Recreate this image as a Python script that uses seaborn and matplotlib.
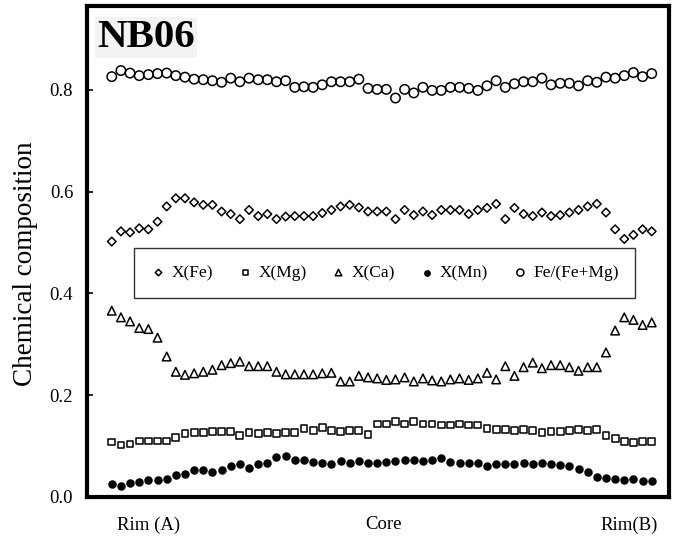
import matplotlib
matplotlib.use("Agg")
import matplotlib.pyplot as plt
import seaborn as sns
import numpy as np

# analysis points along the traverse, rim (A) -> core -> rim (B)
points = np.arange(60)

x_fe = [0.502, 0.522, 0.520, 0.528, 0.526, 0.541, 0.571, 0.587, 0.587, 0.579,
        0.574, 0.574, 0.561, 0.556, 0.546, 0.564, 0.552, 0.556, 0.546, 0.551,
        0.552, 0.552, 0.552, 0.558, 0.564, 0.571, 0.574, 0.569, 0.561,
        0.561, 0.561, 0.546, 0.564, 0.554, 0.561, 0.554, 0.564, 0.564, 0.564,
        0.556, 0.564, 0.568, 0.576, 0.546, 0.568, 0.556, 0.552, 0.559, 0.552,
        0.554, 0.559, 0.564, 0.571, 0.576, 0.559, 0.526, 0.507, 0.515, 0.526,
        0.522]

x_mg = [0.108, 0.102, 0.104, 0.110, 0.110, 0.110, 0.110, 0.117, 0.124, 0.126,
        0.126, 0.128, 0.128, 0.128, 0.120, 0.126, 0.125, 0.126, 0.125, 0.126,
        0.126, 0.134, 0.130, 0.136, 0.130, 0.128, 0.130, 0.130, 0.122,
        0.1435, 0.1435, 0.148, 0.1435, 0.148, 0.1435, 0.1435, 0.1415, 0.1415,
        0.1435, 0.1415, 0.1415, 0.135, 0.132, 0.133, 0.130, 0.132, 0.130,
        0.126, 0.128, 0.128, 0.130, 0.132, 0.130, 0.132, 0.120, 0.115, 0.109,
        0.107, 0.109, 0.109]

x_ca = [0.366, 0.353, 0.345, 0.332, 0.330, 0.313, 0.276, 0.246, 0.240, 0.243,
        0.246, 0.250, 0.259, 0.263, 0.266, 0.257, 0.257, 0.257, 0.246, 0.241,
        0.241, 0.241, 0.241, 0.243, 0.244, 0.227, 0.227, 0.238, 0.235,
        0.233, 0.230, 0.231, 0.235, 0.227, 0.233, 0.229, 0.227, 0.231, 0.233,
        0.230, 0.233, 0.244, 0.231, 0.257, 0.238, 0.255, 0.264, 0.253, 0.259,
        0.259, 0.255, 0.248, 0.255, 0.255, 0.284, 0.327, 0.353, 0.348, 0.338,
        0.343]

x_mn = [0.025, 0.022, 0.027, 0.030, 0.033, 0.033, 0.035, 0.043, 0.045, 0.052,
        0.052, 0.049, 0.053, 0.061, 0.065, 0.056, 0.065, 0.067, 0.078, 0.081,
        0.073, 0.073, 0.069, 0.067, 0.065, 0.071, 0.067, 0.071, 0.067,
        0.067, 0.069, 0.071, 0.073, 0.073, 0.071, 0.073, 0.076, 0.069, 0.067,
        0.067, 0.067, 0.060, 0.065, 0.065, 0.065, 0.067, 0.065, 0.067, 0.065,
        0.062, 0.060, 0.054, 0.049, 0.040, 0.037, 0.036, 0.033, 0.036, 0.031,
        0.031]

fe_ratio = [0.826, 0.838, 0.833, 0.828, 0.830, 0.832, 0.833, 0.828, 0.825, 0.821,
            0.820, 0.818, 0.815, 0.823, 0.816, 0.823, 0.820, 0.820, 0.816, 0.818,
            0.805, 0.806, 0.805, 0.810, 0.816, 0.816, 0.816, 0.821, 0.803,
            0.801, 0.801, 0.784, 0.801, 0.794, 0.805, 0.799, 0.799, 0.805, 0.805,
            0.803, 0.799, 0.808, 0.818, 0.805, 0.812, 0.816, 0.816, 0.823, 0.810,
            0.813, 0.813, 0.808, 0.818, 0.815, 0.825, 0.823, 0.828, 0.834, 0.826,
            0.832]

labels = ["X(Fe)", "X(Mg)", "X(Ca)", "X(Mn)", "Fe/(Fe+Mg)"]
tick_pos = [4.0, 29.7, 56.5]
tick_labels = ["Rim (A)", "Core", "Rim(B)"]

sns.set_theme(style="white")
plt.rcParams["font.family"] = ["Liberation Serif", "DejaVu Serif"]
plt.rcParams["text.color"] = "black"
plt.rcParams["axes.labelcolor"] = "black"
plt.rcParams["xtick.color"] = "black"
plt.rcParams["ytick.color"] = "black"

fig = plt.figure(figsize=(6.8, 5.39), dpi=100)
ax = fig.add_axes([0.128, 0.078, 0.856, 0.911])

series = [x_fe, x_mg, x_ca, x_mn, fe_ratio]
markers = ["D", "s", "^", "o", "o"]
sizes = [19, 24, 38, 25, 46]
fills = ["none", "none", "none", "black", "none"]

for vals, lab, mk, sz, fc in zip(series, labels, markers, sizes, fills):
    sns.scatterplot(
        x=points, y=vals, ax=ax,
        marker=mk, s=sz,
        color="black", facecolor=fc, edgecolor="black",
        linewidth=1.1, label=lab
    )

ax.set_xlim(-2.7, 60.9)
ax.set_ylim(0, 0.965)
ax.set_yticks([0.0, 0.2, 0.4, 0.6, 0.8])
ax.set_yticklabels(["0.0", "0.2", "0.4", "0.6", "0.8"])
ax.set_xticks(tick_pos)
ax.set_xticklabels(tick_labels)
ax.tick_params(axis="y", direction="in", length=4, width=1.2,
               labelsize=13.5, pad=10, left=True, colors="black")
ax.tick_params(axis="x", length=0, labelsize=13.5, pad=14, colors="black")
ax.set_ylabel("Chemical composition", fontsize=19.5, color="black")
ax.yaxis.set_label_coords(-0.084, 0.475)
ax.set_xlabel("")

for side in ["left", "right", "top", "bottom"]:
    ax.spines[side].set_visible(True)
    ax.spines[side].set_color("black")
    ax.spines[side].set_linewidth(3.0)

ax.text(0.017, 0.9165, "NB06", transform=ax.transAxes, color="black",
        fontsize=29.5, fontweight="bold", va="baseline", ha="left",
        bbox=dict(facecolor="#f3f3f3", edgecolor="none", pad=1.5))

leg = ax.legend(
    loc="center", bbox_to_anchor=(0.081, 0.407, 0.861, 0.098),
    mode="expand", ncol=5, fontsize=12.5, frameon=True, fancybox=False,
    edgecolor="black", borderpad=0.95, borderaxespad=0, handlelength=0.9,
    handletextpad=0.3, markerscale=0.75
)
leg.get_frame().set_linewidth(1.0)
for t in leg.get_texts():
    t.set_color("black")

plt.savefig("out.png", dpi=100)
plt.close()
